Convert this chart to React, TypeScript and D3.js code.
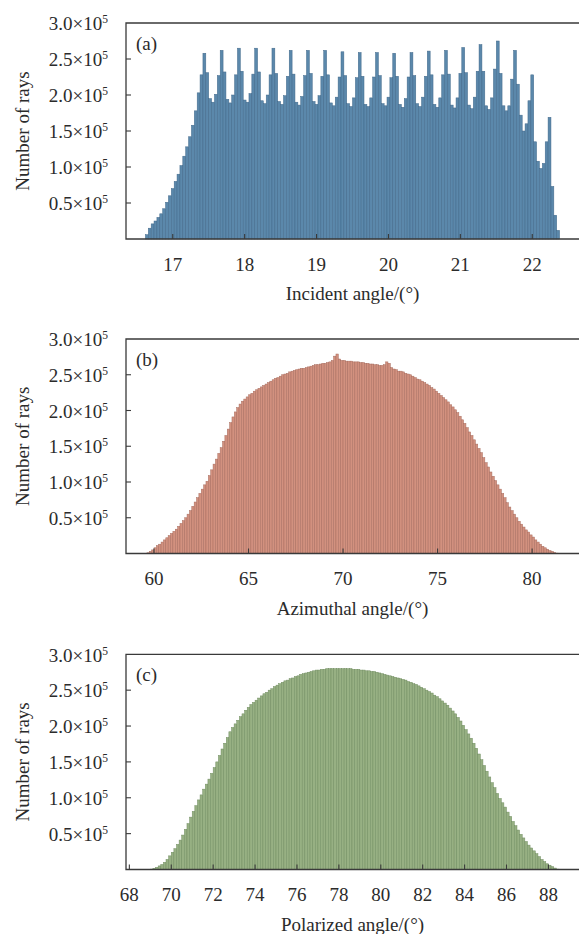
// @ts-nocheck
import * as d3 from 'd3';

// counts are in units of 10^3 rays
const incidentStart = 16.62;
const incidentStep = 0.04;
const incidentCounts = [
  6, 15, 21, 25, 30, 35, 42, 51, 60, 70, 80, 90, 102, 115, 128, 142, 158, 178, 203, 228,
  258, 231, 195, 190, 201, 227,
  262, 232, 194, 189, 200, 228,
  265, 233, 193, 190, 202, 229,
  265, 232, 192, 188, 200, 228,
  265, 230, 191, 187, 199, 226,
  262, 229, 190, 186, 198, 227,
  262, 230, 191, 187, 199, 226,
  262, 228, 189, 185, 197, 225,
  260, 227, 188, 184, 196, 224,
  259, 226, 187, 184, 196, 225,
  259, 227, 188, 185, 197, 224,
  258, 226, 187, 183, 195, 225,
  259, 227, 188, 184, 197, 226,
  261, 228, 187, 183, 196, 228,
  262, 229, 186, 182, 196, 230,
  266, 231, 186, 181, 197, 233,
  270, 233, 185, 180, 196, 236,
  275, 230, 185, 178, 185, 222,
  262, 215, 172, 150, 160, 192,
  228, 135, 108, 98, 105, 135,
  169, 73, 33, 12,
];

const azimuthStart = 59.625;
const azimuthStep = 0.125;
const azimuthCounts = [
  1, 3, 5,
  8, 11, 13, 16, 19, 22, 25, 28,
  31, 34, 38, 42, 46, 50, 55, 60,
  66, 72, 78, 84, 90, 96, 101, 109,
  117, 125, 132, 140, 148, 157, 165, 174,
  183, 191, 198, 204, 209, 213, 216, 219,
  222, 224, 227, 229, 231, 233, 235, 237,
  239, 241, 243, 245, 246, 248, 250, 251,
  252, 254, 255, 256, 257, 258, 259, 259,
  260, 261, 262, 263, 264, 264, 265, 266,
  266, 267, 268, 270, 276, 279, 272, 270,
  270, 269, 269, 269, 268, 268, 268, 267,
  267, 266, 266, 265, 265, 264, 264, 263,
  263, 264, 268, 266, 260, 258, 257, 255,
  255, 254, 252, 251, 250, 248, 246, 244,
  243, 241, 239, 237, 235, 232, 230, 227,
  224, 221, 218, 215, 212, 208, 205, 201,
  197, 192, 187, 182, 176, 170, 165, 159,
  153, 147, 141, 134, 127, 121, 114, 108,
  102, 96, 90, 84, 78, 71, 65, 60,
  55, 50, 45, 41, 37, 33, 30, 26,
  23, 19, 16, 13, 10, 8, 6, 4,
  3, 1.5, 0.5,
];

const polarStart = 69.0;
const polarStep = 0.125;
const polarCounts = [
  0.5, 1.5, 3, 5, 7, 10, 14, 19,
  24, 29, 35, 41, 48, 56, 64, 73,
  81, 89, 97, 104, 112, 119, 126, 134,
  142, 150, 159, 168, 176, 184, 192, 198,
  203, 208, 213, 217, 222, 226, 230, 233,
  236, 239, 242, 245, 247, 250, 252, 255,
  257, 259, 261, 263, 264, 266, 267, 269,
  270, 272, 273, 274, 275, 276, 277, 278,
  278, 279, 279, 280, 280, 280, 280, 280,
  280, 280, 280, 280, 280, 279, 279, 279,
  278, 278, 277, 277, 276, 276, 275, 274,
  273, 272, 271, 270, 269, 268, 267, 266,
  265, 264, 262, 261, 259, 258, 256, 254,
  252, 250, 248, 246, 243, 241, 238, 235,
  232, 229, 225, 221, 217, 212, 207, 201,
  195, 189, 183, 176, 169, 161, 153, 145,
  137, 129, 121, 114, 106, 99, 93, 87,
  80, 74, 67, 61, 55, 49, 44, 39,
  34, 30, 26, 22, 18, 14, 11, 8,
  6, 4, 2, 0.5,
];

const yTicks = [50, 100, 150, 200, 250, 300];
const yTickLabels = ['0.5', '1.0', '1.5', '2.0', '2.5', '3.0'];

const incidentTicks = [17, 18, 19, 20, 21, 22];
const azimuthTicks = [60, 65, 70, 75, 80];
const polarTicks = [68, 70, 72, 74, 76, 78, 80, 82, 84, 86, 88];

const FONT = '"Liberation Serif", "Times New Roman", serif';
const LEFT = 126;
const RIGHT = 579;
const FS = 19;

function Panel({ top, bottom, domain, start, step, counts, ticks, fill, stroke, tag, title }) {
  const x = d3.scaleLinear().domain(domain).range([LEFT, RIGHT]);
  const y = d3.scaleLinear().domain([0, 300]).range([bottom, top]);
  const ink = '#2b2b2b';

  return (
    <g fontFamily={FONT} fill={ink}>
      {counts.map((c, i) => {
        const x0 = x(start + i * step);
        const x1 = x(start + (i + 1) * step);
        return (
          <rect key={i} x={x0} y={y(c)} width={x1 - x0} height={y(0) - y(c)}
            fill={fill} stroke={stroke} strokeWidth={0.5} />
        );
      })}

      {/* frame: left, top, bottom (right side runs off the picture) */}
      <path d={`M${RIGHT + 10},${top}H${LEFT}V${bottom}H${RIGHT + 10}`} fill="none" stroke="#3a3a3a" strokeWidth={1.3} />

      {yTicks.map((t, i) => (
        <g key={t}>
          {t < 300 && <line x1={LEFT} x2={LEFT + 5} y1={y(t)} y2={y(t)} stroke="#3a3a3a" strokeWidth={1.1} />}
          <text x={108} y={y(t)} dy="0.38em" textAnchor="end" fontSize={FS}>
            {yTickLabels[i]}×10<tspan dy={-7} fontSize={11.5}>5</tspan>
          </text>
        </g>
      ))}

      {ticks.map(t => (
        <g key={t}>
          <line x1={x(t)} x2={x(t)} y1={bottom} y2={bottom - 5} stroke="#3a3a3a" strokeWidth={1.1} />
          <text x={x(t)} y={bottom + 31.5} textAnchor="middle" fontSize={FS}>{t}</text>
        </g>
      ))}

      <text x={136} y={top + 20} dy="0.35em" fontSize={FS}>{tag}</text>
      <text x={(LEFT + RIGHT) / 2} y={bottom + 61} textAnchor="middle" fontSize={FS}>{title}</text>
      <text transform={`translate(22,${(top + bottom) / 2}) rotate(-90)`} textAnchor="middle" dy="0.35em" fontSize={FS}>
        Number of rays
      </text>
    </g>
  );
}

export default function App() {
  return (
    <svg width={579} height={934} style={{ position: 'absolute', left: 0, top: 0, background: '#fff' }}>
      <Panel top={23} bottom={239} domain={[16.35, 22.65]} start={incidentStart} step={incidentStep}
        counts={incidentCounts} ticks={incidentTicks} fill="#5b88ab" stroke="#41688a"
        tag="(a)" title="Incident angle/(°)" />
      <Panel top={339} bottom={553.5} domain={[58.52, 82.48]} start={azimuthStart} step={azimuthStep}
        counts={azimuthCounts} ticks={azimuthTicks} fill="#d2917f" stroke="#a86c5e"
        tag="(b)" title="Azimuthal angle/(°)" />
      <Panel top={654.3} bottom={869.5} domain={[67.84, 89.46]} start={polarStart} step={polarStep}
        counts={polarCounts} ticks={polarTicks} fill="#97b083" stroke="#718d60"
        tag="(c)" title="Polarized angle/(°)" />
    </svg>
  );
}
